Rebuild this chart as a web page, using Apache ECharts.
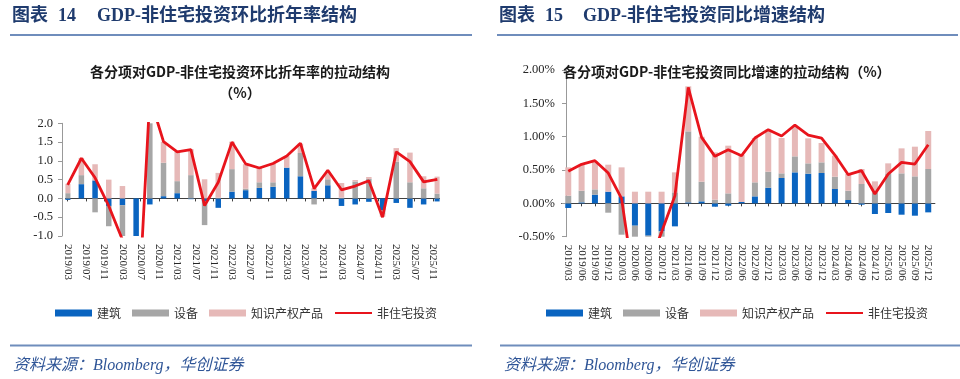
<!DOCTYPE html>
<html><head><meta charset="utf-8">
<script src="https://cdn.jsdelivr.net/npm/echarts@6/dist/echarts.min.js"></script>
<style>html,body{margin:0;padding:0;background:#fff}#c{width:960px;height:379px}</style>
</head><body><div id="c"></div>
<script>
// ---------- data ----------
const quarters = ['2019/03','2019/06','2019/09','2019/12','2020/03','2020/06','2020/09','2020/12',
  '2021/03','2021/06','2021/09','2021/12','2022/03','2022/06','2022/09','2022/12',
  '2023/03','2023/06','2023/09','2023/12','2024/03','2024/06','2024/09','2024/12',
  '2025/03','2025/06','2025/09','2025/12'];

// 图表14：环比折年率拉动（%）
const qoqBuilding  = [-0.04,0.38,0.48,-0.20,-0.18,-1.05,-0.16,0.06,0.14,-0.02,-0.08,-0.25,0.18,0.22,0.28,0.31,0.82,0.59,0.20,0.35,-0.20,-0.16,-0.09,-0.31,-0.12,-0.25,-0.16,-0.08];
const qoqEquipment = [0.14,0.24,-0.37,-0.54,-1.25,-2.50,2.30,0.89,0.32,0.62,-0.63,0.02,0.60,0.04,0.15,0.12,0.00,0.62,-0.16,0.16,0.02,0.45,0.52,-0.12,0.98,0.43,0.27,0.13];
const qoqIP        = [0.25,0.46,0.43,0.50,0.33,-0.60,0.56,0.56,0.78,0.69,0.51,0.66,0.73,0.65,0.38,0.50,0.31,0.25,0.07,0.20,0.39,0.04,0.05,-0.06,0.36,0.79,0.32,0.45];
const qoqTotal     = [0.36,1.07,0.55,-0.20,-1.10,-4.15,2.70,1.51,1.24,1.30,-0.19,0.43,1.50,0.92,0.81,0.93,1.13,1.47,0.26,0.75,0.23,0.33,0.47,-0.50,1.24,0.98,0.44,0.51];
const qoqTickLabels = ['2019/03','2019/07','2019/11','2020/03','2020/07','2020/11','2021/03','2021/07','2021/11',
  '2022/03','2022/07','2022/11','2023/03','2023/07','2023/11','2024/03','2024/07','2024/11','2025/03','2025/07','2025/11'];

// 图表15：同比增速拉动（%）
const yoyBuilding  = [-0.07,0.015,0.13,0.175,0.105,-0.335,-0.485,-0.42,-0.345,0.015,0.03,-0.05,-0.035,0.02,0.105,0.235,0.38,0.465,0.445,0.455,0.215,0.05,-0.02,-0.16,-0.145,-0.17,-0.185,-0.135];
const yoyEquipment = [0.115,0.175,0.08,-0.14,-0.47,-1.14,-0.65,-0.185,0.165,1.065,0.295,0.055,0.15,0.0,0.21,0.24,0.07,0.24,0.155,0.16,0.185,0.14,0.29,0.165,0.44,0.45,0.405,0.515];
const yoyIP        = [0.425,0.39,0.42,0.405,0.435,0.175,0.175,0.175,0.30,0.675,0.675,0.71,0.715,0.705,0.665,0.63,0.53,0.45,0.375,0.29,0.315,0.25,0.225,0.165,0.16,0.375,0.445,0.57];
const yoyTotal     = [0.48,0.585,0.64,0.455,0.07,-1.30,-0.96,-0.43,0.115,1.74,0.99,0.705,0.805,0.715,0.98,1.105,1.01,1.175,1.025,0.98,0.725,0.43,0.49,0.14,0.44,0.615,0.59,0.88];

const seriesNames = ['建筑','设备','知识产权产品','非住宅投资'];

// ---------- month axis for chart 14 (date-like axis) ----------
const months = [];
for (let y = 2019; y <= 2025; y++) for (let m = 1; m <= 12; m++) {
  if (y === 2019 && m < 3) continue;
  months.push(y + '/' + (m < 10 ? '0' + m : '' + m));
}
const toMonthly = arr => months.map(mo => { const i = quarters.indexOf(mo); return i >= 0 ? arr[i] : '-'; });

const BLUE = '#0A64C0', GRAY = '#A6A6A6', PINK = '#E6B9B8', RED = '#E8141C';
const serif = '"Liberation Serif","Times New Roman","Noto Sans CJK SC",serif';
const cjk = '"Noto Sans CJK SC",sans-serif';
const labelStyle = {fontFamily: serif, fontSize: 11, color: '#262626'};
const isTick14 = (idx, val) => qoqTickLabels.indexOf(val) >= 0;

const chart = echarts.init(document.getElementById('c'), null, {renderer: 'canvas'});

function barSeries(name, data, xi, yi, color, w) {
  return {name, type: 'bar', stack: 's' + yi, xAxisIndex: xi, yAxisIndex: yi, data,
    barWidth: w, itemStyle: {color}, animation: false};
}
function lineSeries(name, data, xi, yi) {
  return {name, type: 'line', xAxisIndex: xi, yAxisIndex: yi, data, connectNulls: true,
    symbol: 'line', showSymbol: false, lineStyle: {color: RED, width: 2.8}, itemStyle: {color: RED},
    z: 5, animation: false};
}
const legendData = [{name: seriesNames[0], icon: 'rect'}, {name: seriesNames[1], icon: 'rect'},
  {name: seriesNames[2], icon: 'rect'}, {name: seriesNames[3]}];

const titleFont = 'bold 18px ' + serif;
const option = {
  animation: false,
  backgroundColor: '#fff',
  grid: [
    {left: 65.4, top: 123.3, width: 374.2, height: 112.7},
    {left: 561.6, top: 70, width: 373.3, height: 166.7}
  ],
  xAxis: [
    {gridIndex: 0, type: 'category', data: months, position: 'bottom',
      axisLine: {show: false, onZero: false}, axisTick: {show: false},
      axisLabel: Object.assign({interval: isTick14, rotate: -90, margin: 8}, labelStyle)},
    {gridIndex: 0, type: 'category', data: months, position: 'bottom',
      axisLine: {show: true, onZero: true, lineStyle: {color: '#404040', width: 1}},
      axisTick: {show: true, interval: isTick14, alignWithLabel: true, length: 3, lineStyle: {color: '#404040'}},
      axisLabel: {show: false}},
    {gridIndex: 1, type: 'category', data: quarters, position: 'bottom',
      axisLine: {show: false, onZero: false}, axisTick: {show: false},
      axisLabel: Object.assign({interval: 0, rotate: -90, margin: 8}, labelStyle)},
    {gridIndex: 1, type: 'category', data: quarters, position: 'bottom',
      axisLine: {show: true, onZero: true, lineStyle: {color: '#404040', width: 1}},
      axisTick: {show: true, interval: 0, alignWithLabel: true, length: 3, lineStyle: {color: '#404040'}},
      axisLabel: {show: false}}
  ],
  yAxis: [
    {gridIndex: 0, type: 'value', min: -1, max: 2, interval: 0.5, offset: 3.4,
      axisLine: {show: true, onZero: false, lineStyle: {color: '#999'}},
      axisTick: {show: true, length: 4, lineStyle: {color: '#999'}},
      splitLine: {show: false},
      axisLabel: {formatter: v => v.toFixed(1), margin: 9, fontFamily: serif, fontSize: 12.5, color: '#262626'}},
    {gridIndex: 1, type: 'value', min: -0.5, max: 2, interval: 0.5, offset: -4.4,
      axisLine: {show: true, onZero: false, lineStyle: {color: '#999'}},
      axisTick: {show: true, length: 4, lineStyle: {color: '#999'}},
      splitLine: {show: false},
      axisLabel: {formatter: v => v.toFixed(2) + '%', margin: 11, fontFamily: serif, fontSize: 12.5, color: '#262626'}}
  ],
  legend: [
    {left: 50, top: 302, itemWidth: 37, itemHeight: 7, itemGap: 11, data: legendData,
      textStyle: {fontFamily: cjk, fontSize: 12, color: '#333'}},
    {left: 541, top: 302, itemWidth: 37, itemHeight: 7, itemGap: 11, data: legendData,
      textStyle: {fontFamily: cjk, fontSize: 12, color: '#333'}}
  ],
  series: [
    barSeries(seriesNames[0], toMonthly(qoqBuilding), 0, 0, BLUE, 5.5),
    barSeries(seriesNames[1], toMonthly(qoqEquipment), 0, 0, GRAY, 5.5),
    barSeries(seriesNames[2], toMonthly(qoqIP), 0, 0, PINK, 5.5),
    lineSeries(seriesNames[3], toMonthly(qoqTotal), 0, 0),
    barSeries(seriesNames[0], yoyBuilding, 2, 1, BLUE, 6),
    barSeries(seriesNames[1], yoyEquipment, 2, 1, GRAY, 6),
    barSeries(seriesNames[2], yoyIP, 2, 1, PINK, 6),
    lineSeries(seriesNames[3], yoyTotal, 2, 1)
  ],
  graphic: [
    {type: 'text', x: 12, y: 16, style: {text: '图表', font: titleFont, fill: '#1F3B6E', textVerticalAlign: 'middle', verticalAlign: 'middle'}},
    {type: 'text', x: 58, y: 16, style: {text: '14', font: titleFont, fill: '#1F3B6E', textVerticalAlign: 'middle', verticalAlign: 'middle'}},
    {type: 'text', x: 97, y: 16, style: {text: 'GDP-非住宅投资环比折年率结构', font: titleFont, fill: '#1F3B6E', textVerticalAlign: 'middle', verticalAlign: 'middle'}},
    {type: 'text', x: 499, y: 16, style: {text: '图表', font: titleFont, fill: '#1F3B6E', textVerticalAlign: 'middle', verticalAlign: 'middle'}},
    {type: 'text', x: 545, y: 16, style: {text: '15', font: titleFont, fill: '#1F3B6E', textVerticalAlign: 'middle', verticalAlign: 'middle'}},
    {type: 'text', x: 583, y: 16, style: {text: 'GDP-非住宅投资同比增速结构', font: titleFont, fill: '#1F3B6E', textVerticalAlign: 'middle', verticalAlign: 'middle'}},
    {type: 'line', shape: {x1: 10, y1: 35, x2: 472, y2: 35}, style: {stroke: '#6F8DBC', lineWidth: 2}},
    {type: 'line', shape: {x1: 497, y1: 35, x2: 958, y2: 35}, style: {stroke: '#6F8DBC', lineWidth: 2}},
    {type: 'line', shape: {x1: 10, y1: 345.5, x2: 472, y2: 345.5}, style: {stroke: '#6F8DBC', lineWidth: 2}},
    {type: 'line', shape: {x1: 500, y1: 345.5, x2: 960, y2: 345.5}, style: {stroke: '#6F8DBC', lineWidth: 2}},
    {type: 'text', x: 240, y: 72, style: {text: '各分项对GDP-非住宅投资环比折年率的拉动结构', font: 'bold 14px ' + cjk, fill: '#1a1a1a', textAlign: 'center', align: 'center', textVerticalAlign: 'middle', verticalAlign: 'middle'}},
    {type: 'text', x: 240, y: 93, style: {text: '（%）', font: 'bold 14px ' + cjk, fill: '#1a1a1a', textAlign: 'center', align: 'center', textVerticalAlign: 'middle', verticalAlign: 'middle'}},
    {type: 'text', x: 563, y: 72, z: 100, style: {text: '各分项对GDP-非住宅投资同比增速的拉动结构（%）', font: 'bold 14px ' + cjk, fill: '#1a1a1a', textVerticalAlign: 'middle', verticalAlign: 'middle'}},
    {type: 'text', x: 13, y: 366, style: {text: '资料来源：Bloomberg，华创证券', font: 'italic 16px ' + serif, fill: '#2F5597', textVerticalAlign: 'middle', verticalAlign: 'middle'}},
    {type: 'text', x: 504, y: 366, style: {text: '资料来源：Bloomberg，华创证券', font: 'italic 16px ' + serif, fill: '#2F5597', textVerticalAlign: 'middle', verticalAlign: 'middle'}}
  ]
};
chart.setOption(option);
</script></body></html>
